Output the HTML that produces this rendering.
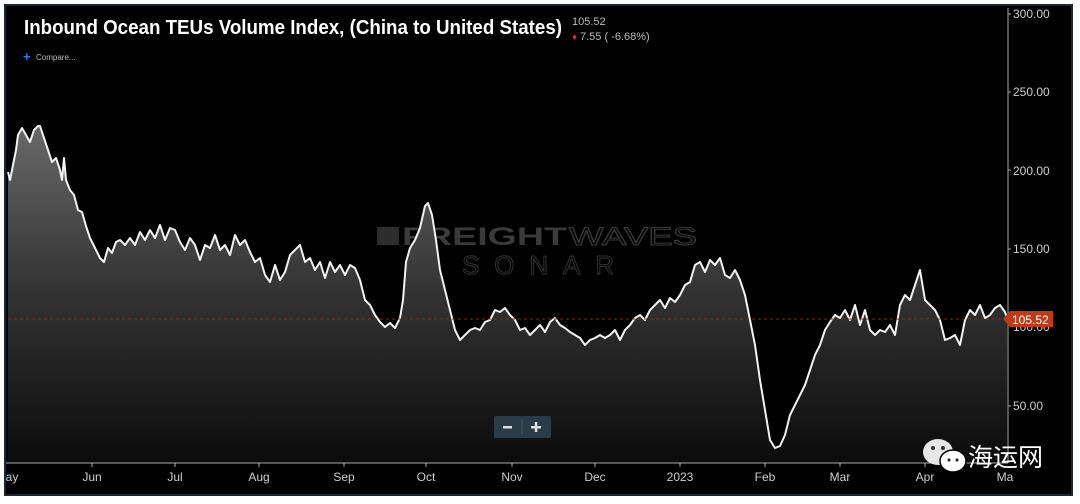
<!DOCTYPE html>
<html><head><meta charset="utf-8"><style>
html,body{margin:0;padding:0;background:#fff;}
body{width:1080px;height:504px;position:relative;overflow:hidden;font-family:"Liberation Sans",sans-serif;}
</style></head><body>
<svg width="1080" height="504" viewBox="0 0 1080 504" xmlns="http://www.w3.org/2000/svg" style="position:absolute;left:0;top:0">
<defs>
<linearGradient id="g" gradientUnits="userSpaceOnUse" x1="0" y1="120" x2="0" y2="463">
<stop offset="0" stop-color="#6a6a6a"/><stop offset="0.5" stop-color="#333"/><stop offset="1" stop-color="#0c0c0c"/>
</linearGradient>
</defs>
<rect x="5" y="5" width="1067" height="490" fill="#000"/>
<rect x="5" y="5" width="1067" height="490" fill="none" stroke="#1c2630" stroke-width="2"/>
<!-- watermark -->
<g>
<rect x="377" y="227" width="22" height="18" fill="#2c2c2c"/>
<text x="402" y="245" font-size="25" font-weight="bold" fill="#3a3a3a" textLength="165" lengthAdjust="spacingAndGlyphs">FREIGHT</text>
<text x="569" y="245" font-size="25" fill="none" stroke="#3a3a3a" stroke-width="1" textLength="128" lengthAdjust="spacingAndGlyphs">WAVES</text>
<text x="462" y="274" font-size="26" fill="none" stroke="#333" stroke-width="1" textLength="152" lengthAdjust="spacing">SONAR</text>
</g>
<polygon fill="url(#g)" points="8,463 8,172 10,180 14,160 16,150 18,135 22,128 26,135 30,142 34,130 38,126 40,126 44,138 48,150 52,162 56,158 60,170 62,180 64,158 66,180 70,190 74,195 78,210 82,212 86,226 90,238 96,250 100,258 104,262 108,248 112,253 116,242 120,240 125,245 130,238 135,245 140,232 145,240 150,230 155,238 160,225 165,240 170,228 175,230 180,242 185,250 190,238 195,245 200,260 205,245 210,248 215,235 220,250 225,245 230,255 235,235 240,245 245,240 250,252 255,262 260,258 265,275 270,282 275,265 280,280 285,272 290,255 295,250 300,245 305,262 310,258 315,270 320,262 325,278 330,262 335,272 340,265 345,275 350,265 355,268 360,280 365,300 370,305 375,315 380,322 385,327 390,323 395,328 400,318 403,300 406,262 410,248 415,240 420,228 425,206 428,203 432,215 436,240 440,270 445,290 450,310 455,330 460,340 465,335 470,330 475,328 480,330 485,322 490,320 495,310 500,312 505,308 510,315 515,320 520,330 525,328 530,335 535,330 540,325 545,332 550,322 555,318 560,325 565,328 570,332 575,335 580,338 585,345 590,340 595,338 600,335 605,338 610,335 615,330 620,340 625,330 630,325 635,318 640,315 645,320 650,310 655,305 660,300 665,308 670,298 675,302 680,295 685,285 690,282 695,265 700,262 705,272 710,260 715,265 720,258 725,275 730,278 735,270 740,280 745,295 750,320 755,345 760,380 765,410 770,440 775,448 780,446 785,435 790,415 795,405 800,395 805,385 810,370 815,355 820,345 825,330 830,322 835,315 840,318 845,310 850,320 855,305 860,325 865,310 870,330 875,335 880,330 885,332 890,325 895,335 900,305 905,295 910,300 915,285 920,270 925,300 930,305 935,310 940,320 945,340 950,338 955,335 960,345 965,320 970,310 975,315 980,305 985,318 990,315 995,308 1000,305 1005,312 1007,318 1007,463"/>
<polyline fill="none" stroke="#f2f2f2" stroke-width="2" stroke-linejoin="round" points="8,172 10,180 14,160 16,150 18,135 22,128 26,135 30,142 34,130 38,126 40,126 44,138 48,150 52,162 56,158 60,170 62,180 64,158 66,180 70,190 74,195 78,210 82,212 86,226 90,238 96,250 100,258 104,262 108,248 112,253 116,242 120,240 125,245 130,238 135,245 140,232 145,240 150,230 155,238 160,225 165,240 170,228 175,230 180,242 185,250 190,238 195,245 200,260 205,245 210,248 215,235 220,250 225,245 230,255 235,235 240,245 245,240 250,252 255,262 260,258 265,275 270,282 275,265 280,280 285,272 290,255 295,250 300,245 305,262 310,258 315,270 320,262 325,278 330,262 335,272 340,265 345,275 350,265 355,268 360,280 365,300 370,305 375,315 380,322 385,327 390,323 395,328 400,318 403,300 406,262 410,248 415,240 420,228 425,206 428,203 432,215 436,240 440,270 445,290 450,310 455,330 460,340 465,335 470,330 475,328 480,330 485,322 490,320 495,310 500,312 505,308 510,315 515,320 520,330 525,328 530,335 535,330 540,325 545,332 550,322 555,318 560,325 565,328 570,332 575,335 580,338 585,345 590,340 595,338 600,335 605,338 610,335 615,330 620,340 625,330 630,325 635,318 640,315 645,320 650,310 655,305 660,300 665,308 670,298 675,302 680,295 685,285 690,282 695,265 700,262 705,272 710,260 715,265 720,258 725,275 730,278 735,270 740,280 745,295 750,320 755,345 760,380 765,410 770,440 775,448 780,446 785,435 790,415 795,405 800,395 805,385 810,370 815,355 820,345 825,330 830,322 835,315 840,318 845,310 850,320 855,305 860,325 865,310 870,330 875,335 880,330 885,332 890,325 895,335 900,305 905,295 910,300 915,285 920,270 925,300 930,305 935,310 940,320 945,340 950,338 955,335 960,345 965,320 970,310 975,315 980,305 985,318 990,315 995,308 1000,305 1005,312 1007,318"/>
<line x1="8" y1="319" x2="1008" y2="319" stroke="#8a2a1a" stroke-width="1" stroke-dasharray="3,3"/>
<line x1="1008" y1="8" x2="1008" y2="463" stroke="#aaa" stroke-width="1"/>
<line x1="6" y1="463" x2="1008" y2="463" stroke="#aaa" stroke-width="1"/>
<g fill="#cfcfcf" font-size="12">
<text x="1013" y="18">300.00</text>
<text x="1013" y="96">250.00</text>
<text x="1013" y="175">200.00</text>
<text x="1013" y="253">150.00</text>
<text x="1013" y="331">100.00</text>
<text x="1013" y="410">50.00</text>
</g>
<g stroke="#aaa"><line x1="1008" y1="14" x2="1011" y2="14"/><line x1="1008" y1="92" x2="1011" y2="92"/><line x1="1008" y1="170" x2="1011" y2="170"/><line x1="1008" y1="249" x2="1011" y2="249"/><line x1="1008" y1="406" x2="1011" y2="406"/></g>
<polygon points="1003,319 1010,311 1053,311 1053,327 1010,327" fill="#c0391b"/>
<text x="1012" y="324" fill="#fff" font-size="12">105.52</text>
<g fill="#cfcfcf" font-size="12" text-anchor="middle">
<text x="12" y="481">ay</text><text x="92" y="481">Jun</text><text x="175" y="481">Jul</text><text x="259" y="481">Aug</text><text x="344" y="481">Sep</text><text x="426" y="481">Oct</text><text x="512" y="481">Nov</text><text x="595" y="481">Dec</text><text x="680" y="481">2023</text><text x="765" y="481">Feb</text><text x="840" y="481">Mar</text><text x="925" y="481">Apr</text><text x="1005" y="481">Ma</text>
</g>
<g stroke="#aaa"><line x1="92" y1="463" x2="92" y2="467"/><line x1="175" y1="463" x2="175" y2="467"/><line x1="259" y1="463" x2="259" y2="467"/><line x1="344" y1="463" x2="344" y2="467"/><line x1="426" y1="463" x2="426" y2="467"/><line x1="512" y1="463" x2="512" y2="467"/><line x1="595" y1="463" x2="595" y2="467"/><line x1="680" y1="463" x2="680" y2="467"/><line x1="765" y1="463" x2="765" y2="467"/><line x1="840" y1="463" x2="840" y2="467"/><line x1="925" y1="463" x2="925" y2="467"/></g>
<rect x="494" y="416" width="57" height="22" rx="2" fill="#2b3b48"/>
<line x1="522" y1="419" x2="522" y2="435" stroke="#3f5262"/>
<rect x="503" y="426" width="9" height="2.5" fill="#ddd"/>
<rect x="531" y="426" width="10" height="2.5" fill="#ddd"/><rect x="534.8" y="422" width="2.5" height="10" fill="#ddd"/>
<text x="24" y="34" fill="#fff" font-size="20" font-weight="bold" textLength="538" lengthAdjust="spacingAndGlyphs">Inbound Ocean TEUs Volume Index, (China to United States)</text>
<text x="572" y="25" fill="#bbb" font-size="11">105.52</text>
<text x="572" y="40" fill="#e0203a" font-size="10">♦</text>
<text x="580" y="40" fill="#bbb" font-size="11">7.55 ( -6.68%)</text>
<text x="23" y="61" fill="#2a7de0" font-size="13" font-weight="bold">+</text>
<text x="36" y="60" fill="#bbb" font-size="8">Compare...</text>
<ellipse cx="938" cy="452" rx="15" ry="13" fill="#e6e6e6"/>
<ellipse cx="953" cy="461" rx="13" ry="11" fill="#fff" stroke="#000" stroke-width="1.5"/>
<circle cx="933" cy="448" r="2" fill="#333"/><circle cx="943" cy="448" r="2" fill="#333"/>
<circle cx="949" cy="460" r="1.6" fill="#333"/><circle cx="957" cy="460" r="1.6" fill="#333"/>
<text x="968" y="466" fill="#fff" font-size="25" font-family="Noto Sans CJK SC, sans-serif">海运网</text>
</svg>
</body></html>
